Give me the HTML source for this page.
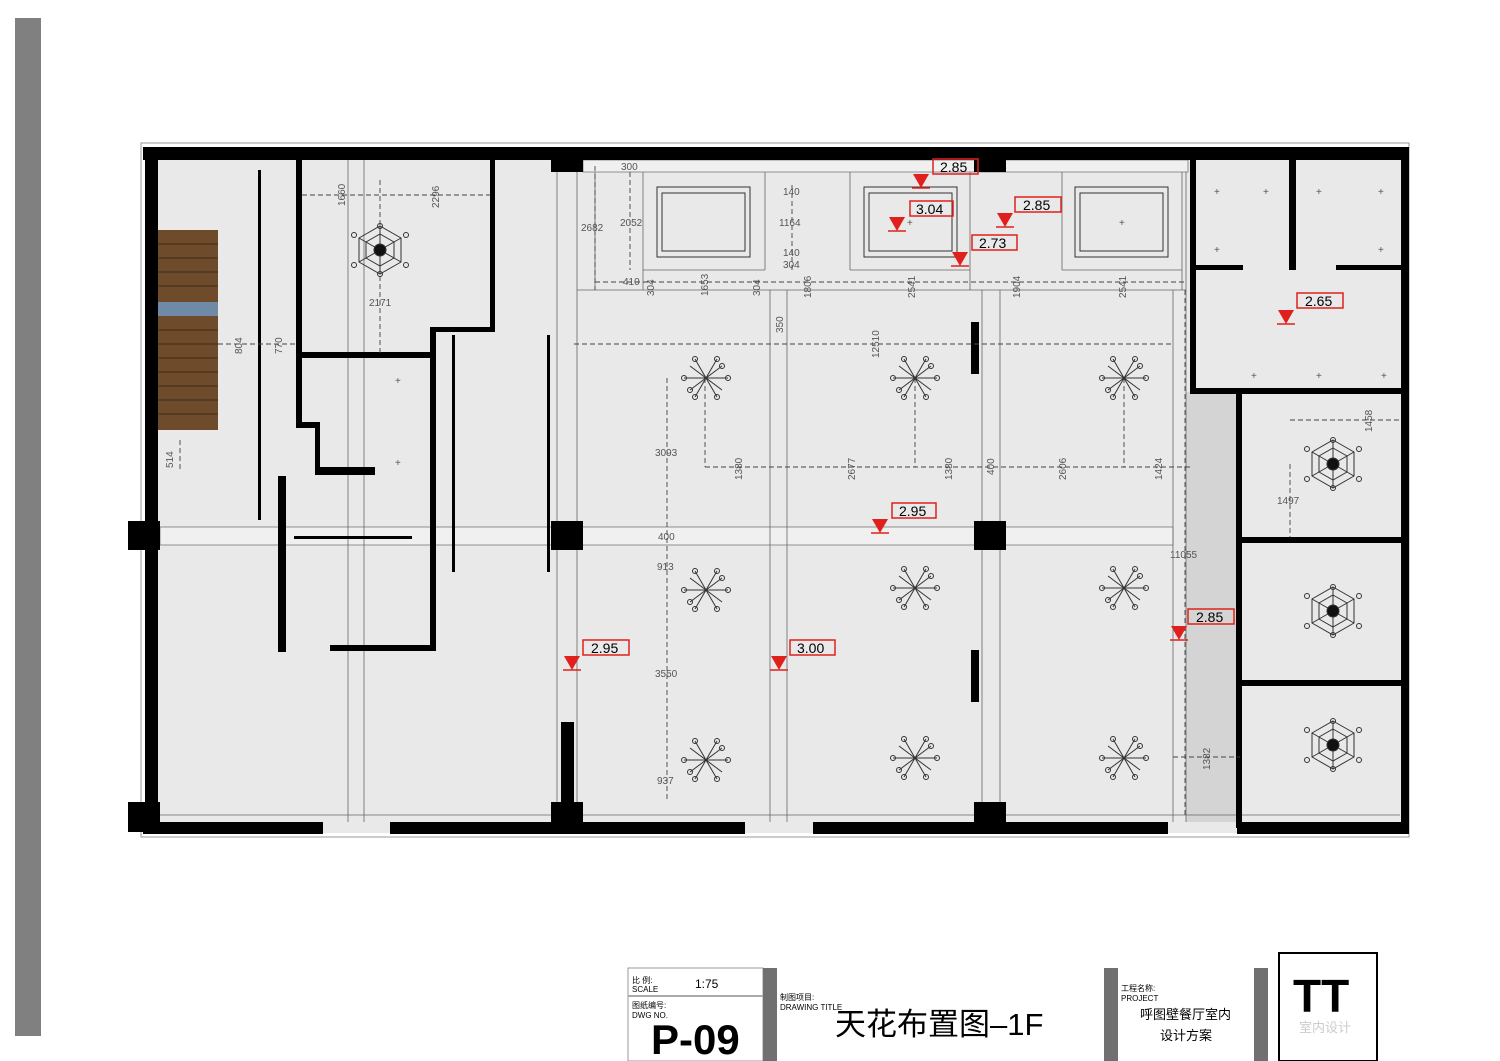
<!DOCTYPE html>
<html><head><meta charset="utf-8"><style>
html,body{margin:0;padding:0;background:#fff;width:1500px;height:1061px;overflow:hidden}
svg{display:block}
.d{font-family:"Liberation Sans",sans-serif;font-size:10px;fill:#555}
.r{font-family:"Liberation Sans",sans-serif;font-size:14px;fill:#000}
</style></head><body>
<svg width="1500" height="1061" viewBox="0 0 1500 1061" xmlns="http://www.w3.org/2000/svg">
<defs>
<g id="ch" stroke="#333" stroke-width="1" fill="none">
<line x1="-22" y1="0" x2="22" y2="0"/><line x1="-11" y1="-19" x2="11" y2="19"/><line x1="11" y1="-19" x2="-11" y2="19"/>
<line x1="-16" y1="-12" x2="16" y2="12"/><line x1="16" y1="-12" x2="-16" y2="12"/>
<circle cx="-22" cy="0" r="2.5"/><circle cx="22" cy="0" r="2.5"/><circle cx="-11" cy="-19" r="2.5"/><circle cx="11" cy="19" r="2.5"/><circle cx="11" cy="-19" r="2.5"/><circle cx="-11" cy="19" r="2.5"/><circle cx="16" cy="-12" r="2.5"/><circle cx="-16" cy="12" r="2.5"/>
</g>
<g id="hx" stroke="#333" stroke-width="1" fill="none">
<polygon points="0,-24 21,-12 21,12 0,24 -21,12 -21,-12"/>
<polygon points="0,-16 14,-8 14,8 0,16 -14,8 -14,-8"/>
<line x1="0" y1="-24" x2="0" y2="24"/><line x1="-21" y1="-12" x2="21" y2="12"/><line x1="21" y1="-12" x2="-21" y2="12"/>
<circle cx="0" cy="-24" r="2.5"/><circle cx="0" cy="24" r="2.5"/><circle cx="-26" cy="-15" r="2.5"/><circle cx="26" cy="-15" r="2.5"/><circle cx="-26" cy="15" r="2.5"/><circle cx="26" cy="15" r="2.5"/>
<circle cx="0" cy="0" r="6" fill="#111"/>
</g>
<g id="tri"><polygon points="-8,-14 8,-14 0,0" fill="#e0201c"/><line x1="-9" y1="0" x2="9" y2="0" stroke="#e0201c" stroke-width="1.5"/></g>
</defs>

<rect x="15" y="18" width="26" height="1018" fill="#808080"/>

<!-- plan base -->
<rect x="141" y="143" width="1268" height="694" fill="#fff" stroke="#999" stroke-width="1"/>
<rect x="145" y="147" width="1260" height="686" fill="#e9e9e9"/>
<rect x="1186" y="392" width="52" height="430" fill="#d4d4d4"/>
<rect x="160" y="527" width="1013" height="18" fill="#f0f0f0" stroke="#777" stroke-width="0.8"/>
<rect x="583" y="160" width="605" height="12" fill="#f0f0f0" stroke="#777" stroke-width="0.8"/>

<!-- grid lines -->
<g stroke="#666" stroke-width="0.8">
<line x1="348" y1="160" x2="348" y2="822"/><line x1="364" y1="160" x2="364" y2="822"/>
<line x1="557" y1="160" x2="557" y2="822"/><line x1="577" y1="160" x2="577" y2="822"/>
<line x1="770" y1="290" x2="770" y2="822"/><line x1="787" y1="290" x2="787" y2="822"/>
<line x1="982" y1="290" x2="982" y2="822"/><line x1="1000" y1="290" x2="1000" y2="822"/>
<line x1="1173" y1="290" x2="1173" y2="822"/><line x1="1186" y1="172" x2="1186" y2="822"/>
<line x1="577" y1="290" x2="1186" y2="290"/><line x1="160" y1="815" x2="1400" y2="815"/>
<line x1="595" y1="172" x2="595" y2="290"/><line x1="643" y1="172" x2="643" y2="290"/>
<line x1="765" y1="172" x2="765" y2="270"/><line x1="850" y1="172" x2="850" y2="270"/><line x1="970" y1="172" x2="970" y2="290"/><line x1="1062" y1="172" x2="1062" y2="270"/><line x1="1182" y1="172" x2="1182" y2="290"/>
<line x1="643" y1="270" x2="765" y2="270"/><line x1="850" y1="270" x2="970" y2="270"/><line x1="1062" y1="270" x2="1182" y2="270"/>
</g>
<!-- coffers -->
<g stroke="#333" stroke-width="1" fill="none">
<rect x="657" y="187" width="93" height="70"/><rect x="662" y="193" width="83" height="58"/>
<rect x="864" y="187" width="93" height="70"/><rect x="869" y="193" width="83" height="58"/>
<rect x="1075" y="187" width="93" height="70"/><rect x="1080" y="193" width="83" height="58"/>
</g>

<!-- walls -->
<g fill="#000">
<rect x="143" y="147" width="1265" height="13"/>
<rect x="145" y="147" width="13" height="686"/>
<rect x="1401" y="147" width="8" height="687"/>
<rect x="143" y="822" width="180" height="12"/><rect x="390" y="822" width="355" height="12"/><rect x="813" y="822" width="355" height="12"/><rect x="1237" y="822" width="171" height="12"/>
<rect x="128" y="521" width="32" height="29"/><rect x="551" y="521" width="32" height="29"/><rect x="974" y="521" width="32" height="29"/>
<rect x="128" y="802" width="32" height="30"/><rect x="551" y="802" width="32" height="30"/><rect x="974" y="802" width="32" height="30"/>
<rect x="551" y="158" width="32" height="14"/><rect x="974" y="158" width="32" height="14"/>
<rect x="296" y="160" width="6" height="266"/><rect x="296" y="352" width="140" height="6"/>
<rect x="430" y="327" width="6" height="324"/><rect x="430" y="327" width="65" height="5"/><rect x="490" y="160" width="5" height="172"/>
<rect x="296" y="422" width="22" height="6"/><rect x="315" y="422" width="5" height="53"/><rect x="315" y="467" width="60" height="8"/>
<rect x="278" y="476" width="8" height="176"/><rect x="330" y="645" width="106" height="6"/>
<rect x="561" y="722" width="13" height="100"/>
<rect x="1190" y="158" width="6" height="236"/><rect x="1196" y="265" width="47" height="5"/><rect x="1289" y="160" width="7" height="110"/><rect x="1336" y="265" width="65" height="5"/>
<rect x="1196" y="388" width="205" height="6"/><rect x="1236" y="394" width="6" height="434"/>
<rect x="1240" y="537" width="161" height="6"/><rect x="1240" y="680" width="161" height="6"/>
<rect x="971" y="322" width="8" height="52"/><rect x="971" y="650" width="8" height="52"/>
<rect x="258" y="170" width="3" height="350"/><rect x="452" y="335" width="3" height="237"/><rect x="547" y="335" width="3" height="237"/><rect x="294" y="536" width="118" height="3"/>
</g>

<!-- stairs -->
<rect x="158" y="230" width="60" height="200" fill="#6e4c2b"/>
<g stroke="#3e2a15" stroke-width="1">
<line x1="158" y1="244" x2="218" y2="244"/><line x1="158" y1="258" x2="218" y2="258"/><line x1="158" y1="272" x2="218" y2="272"/><line x1="158" y1="286" x2="218" y2="286"/><line x1="158" y1="330" x2="218" y2="330"/><line x1="158" y1="344" x2="218" y2="344"/><line x1="158" y1="358" x2="218" y2="358"/><line x1="158" y1="372" x2="218" y2="372"/><line x1="158" y1="386" x2="218" y2="386"/><line x1="158" y1="400" x2="218" y2="400"/><line x1="158" y1="414" x2="218" y2="414"/>
</g>
<rect x="158" y="302" width="60" height="14" fill="#6f8aa6"/>

<!-- dimension lines -->
<g stroke="#444" stroke-width="0.9" stroke-dasharray="5,3" fill="none">
<line x1="302" y1="195" x2="490" y2="195"/><line x1="380" y1="180" x2="380" y2="355"/>
<line x1="218" y1="344" x2="296" y2="344"/><line x1="180" y1="440" x2="180" y2="470"/>
<line x1="574" y1="344" x2="1173" y2="344"/><line x1="667" y1="378" x2="667" y2="800"/>
<line x1="705" y1="467" x2="1190" y2="467"/><line x1="705" y1="378" x2="705" y2="467"/><line x1="915" y1="378" x2="915" y2="467"/><line x1="1124" y1="378" x2="1124" y2="467"/>
<line x1="595" y1="282" x2="1186" y2="282"/><line x1="595" y1="166" x2="595" y2="290"/><line x1="630" y1="172" x2="630" y2="270"/><line x1="792" y1="185" x2="792" y2="270"/>
<line x1="1185" y1="290" x2="1185" y2="815"/><line x1="1290" y1="420" x2="1400" y2="420"/><line x1="1290" y1="464" x2="1290" y2="537"/><line x1="1173" y1="757" x2="1240" y2="757"/>
</g>

<!-- fixtures -->
<use href="#ch" x="706" y="378"/><use href="#ch" x="915" y="378"/><use href="#ch" x="1124" y="378"/>
<use href="#ch" x="706" y="590"/><use href="#ch" x="915" y="588"/><use href="#ch" x="1124" y="588"/>
<use href="#ch" x="706" y="760"/><use href="#ch" x="915" y="758"/><use href="#ch" x="1124" y="758"/>
<use href="#hx" x="380" y="250"/><use href="#hx" x="1333" y="464"/><use href="#hx" x="1333" y="611"/><use href="#hx" x="1333" y="745"/>
<g class="d" font-size="11" fill="#333">
<text x="395" y="384">+</text><text x="395" y="466">+</text><text x="1214" y="195">+</text><text x="1263" y="195">+</text><text x="1316" y="195">+</text><text x="1378" y="195">+</text><text x="1214" y="253">+</text><text x="1378" y="253">+</text><text x="1251" y="379">+</text><text x="1316" y="379">+</text><text x="1381" y="379">+</text><text x="907" y="226">+</text><text x="1119" y="226">+</text>
</g>

<!-- dimension texts -->
<g class="d">
<text x="621" y="170">300</text><text x="581" y="231">2682</text><text x="620" y="226">2052</text><text x="783" y="195">140</text><text x="779" y="226">1164</text><text x="783" y="256">140</text><text x="783" y="268">304</text><text x="623" y="285">410</text>
<text x="369" y="306">2171</text><text x="655" y="456">3093</text><text x="658" y="540">400</text><text x="657" y="570">913</text><text x="655" y="677">3550</text><text x="657" y="784">937</text>
<text x="1170" y="558">11055</text><text x="1277" y="504">1497</text>
</g>
<g class="d">
<text transform="translate(345,206) rotate(-90)">1660</text><text transform="translate(439,208) rotate(-90)">2296</text>
<text transform="translate(242,354) rotate(-90)">804</text><text transform="translate(282,354) rotate(-90)">770</text><text transform="translate(173,468) rotate(-90)">514</text>
<text transform="translate(654,296) rotate(-90)">304</text><text transform="translate(708,296) rotate(-90)">1653</text><text transform="translate(760,296) rotate(-90)">304</text><text transform="translate(811,298) rotate(-90)">1806</text><text transform="translate(915,298) rotate(-90)">2541</text><text transform="translate(1020,298) rotate(-90)">1904</text><text transform="translate(1126,298) rotate(-90)">2541</text>
<text transform="translate(783,333) rotate(-90)">350</text><text transform="translate(879,358) rotate(-90)">12510</text>
<text transform="translate(742,480) rotate(-90)">1380</text><text transform="translate(855,480) rotate(-90)">2677</text><text transform="translate(952,480) rotate(-90)">1380</text><text transform="translate(994,475) rotate(-90)">400</text><text transform="translate(1066,480) rotate(-90)">2606</text><text transform="translate(1162,480) rotate(-90)">1424</text>
<text transform="translate(1372,432) rotate(-90)">1458</text><text transform="translate(1210,770) rotate(-90)">1382</text>
</g>

<!-- elevation markers -->
<g fill="none" stroke="#e0201c" stroke-width="1.5">
<rect x="933" y="159" width="45" height="15"/><rect x="910" y="201" width="43" height="15"/><rect x="1015" y="197" width="46" height="15"/><rect x="972" y="235" width="45" height="15"/><rect x="1297" y="293" width="46" height="15"/><rect x="892" y="503" width="44" height="15"/><rect x="583" y="640" width="46" height="15"/><rect x="790" y="640" width="45" height="15"/><rect x="1188" y="609" width="46" height="15"/>
</g>
<g class="r">
<text x="940" y="172">2.85</text><text x="916" y="214">3.04</text><text x="1023" y="210">2.85</text><text x="979" y="248">2.73</text><text x="1305" y="306">2.65</text><text x="899" y="516">2.95</text><text x="591" y="653">2.95</text><text x="797" y="653">3.00</text><text x="1196" y="622">2.85</text>
</g>
<use href="#tri" x="921" y="188"/><use href="#tri" x="897" y="231"/><use href="#tri" x="1005" y="227"/><use href="#tri" x="960" y="266"/><use href="#tri" x="1286" y="324"/><use href="#tri" x="880" y="533"/><use href="#tri" x="572" y="670"/><use href="#tri" x="779" y="670"/><use href="#tri" x="1179" y="640"/>

<!-- title block -->
<g font-family="Liberation Sans, Noto Sans CJK SC, sans-serif">
<rect x="628" y="968" width="135" height="93" fill="#fff" stroke="#999" stroke-width="1"/>
<line x1="628" y1="996" x2="763" y2="996" stroke="#aaa" stroke-width="2"/>
<text x="632" y="983" font-size="8" fill="#000">比 例:</text><text x="632" y="992" font-size="8" fill="#000">SCALE</text>
<text x="695" y="988" font-size="12" fill="#000">1:75</text>
<text x="632" y="1008" font-size="8" fill="#000">图纸编号:</text><text x="632" y="1018" font-size="8" fill="#000">DWG NO.</text>
<text x="651" y="1054" font-size="42" font-weight="bold" fill="#000">P-09</text>
<rect x="763" y="968" width="14" height="93" fill="#707070"/>
<text x="780" y="1000" font-size="8" fill="#000">制图项目:</text><text x="780" y="1010" font-size="8" fill="#000">DRAWING TITLE</text>
<text x="835" y="1035" font-size="31" fill="#000">天花布置图–1F</text>
<rect x="1104" y="968" width="14" height="93" fill="#707070"/>
<text x="1121" y="991" font-size="8" fill="#000">工程名称:</text><text x="1121" y="1001" font-size="8" fill="#000">PROJECT</text>
<text x="1140" y="1019" font-size="13" fill="#000">呼图壁餐厅室内</text><text x="1160" y="1040" font-size="13" fill="#000">设计方案</text>
<rect x="1254" y="968" width="14" height="93" fill="#707070"/>
<rect x="1279" y="953" width="98" height="108" fill="#fff" stroke="#000" stroke-width="2"/>
<text x="1293" y="1012" font-size="46" font-weight="bold" fill="#000">TT</text>
<text x="1299" y="1032" font-size="13" fill="#ccc">室内设计</text>
</g>
</svg>
</body></html>
